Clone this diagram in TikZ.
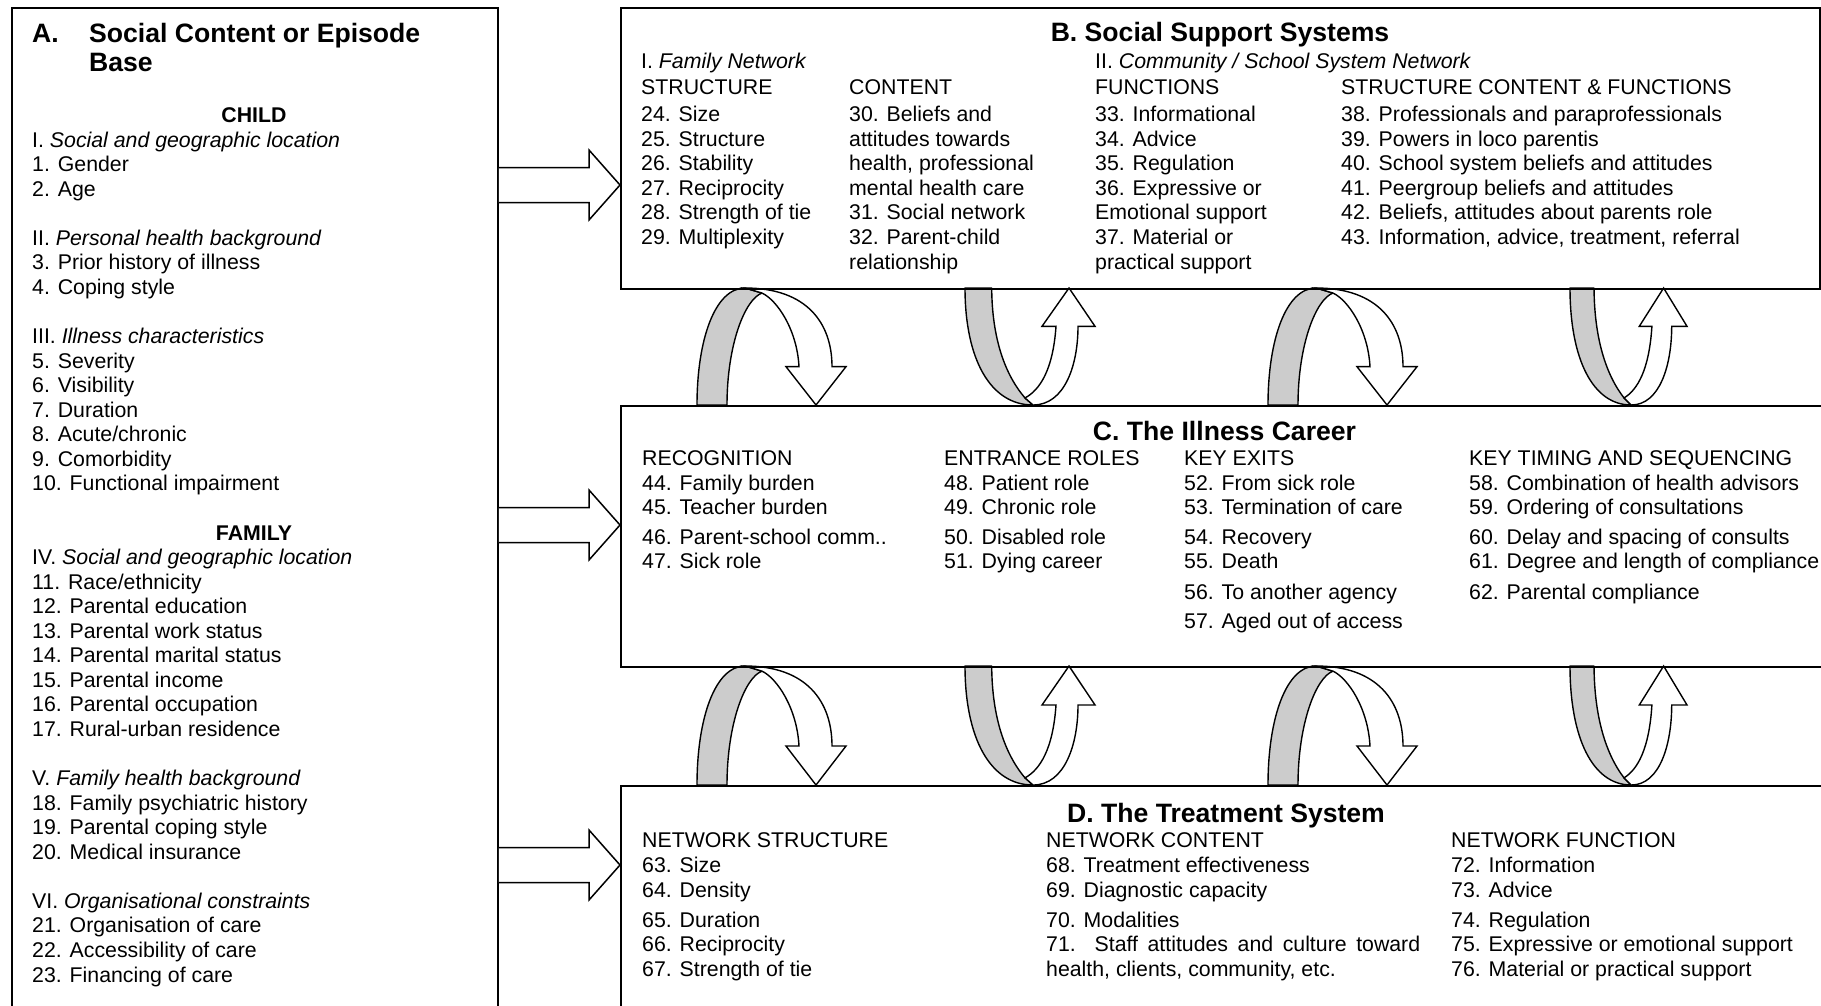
\documentclass[tikz,border=0pt]{standalone}
\usepackage{fontspec}
\setmainfont{Liberation Sans}
\definecolor{ribbon}{RGB}{204,204,204}
\tikzset{
  txt/.style={anchor=base west, inner sep=0pt, font=\fontsize{21.3}{24.6}\selectfont},
  ctxt/.style={anchor=base, inner sep=0pt, font=\fontsize{21.3}{24.6}\selectfont\bfseries},
  ttl/.style={anchor=base, inner sep=0pt, font=\fontsize{26.6}{29}\selectfont\bfseries},
  ttll/.style={anchor=base west, inner sep=0pt, font=\fontsize{26.6}{29}\selectfont\bfseries},
  boxline/.style={draw, line width=1.8pt},
  blockarrow/.style={draw, line width=1.5pt, fill=white, line join=miter},
  ribg/.style={draw, line width=1.4pt, fill=ribbon, line join=round},
  ribw/.style={draw, line width=1.4pt, fill=white, line join=miter},
}
\newcommand\txtline[4]{\node[txt] (#1) at (#2,#3) {#4};}
\newcommand\ribdown[4]{%
  \begin{scope}[shift={(#1,#2)}, xscale=#3, yscale=#4]
    \draw[ribg] (0,116) .. controls (0,51) and (18,0) .. (48,0) -- (65,5)
      .. controls (48,11) and (30,56) .. (30,116) -- cycle;
    \draw[ribw] (48,0) .. controls (110,0) and (135,35) .. (135,78) -- (149,78)
      -- (119,116) -- (89,78) -- (102,78) .. controls (100,41) and (80,12) .. (65,5) -- cycle;
  \end{scope}}
\newcommand\ribup[4]{%
  \begin{scope}[shift={(#1,#2)}, xscale=#3, yscale=#4]
    \draw[ribg] (0,0) .. controls (0,70) and (25,116) .. (68,116) -- (60,109)
      .. controls (40,86) and (27,50) .. (26.7,0) -- cycle;
    \draw[ribw] (68,116) .. controls (100,116) and (113,76) .. (113,38) -- (130,38)
      -- (104,0) -- (77,38) -- (91,38) .. controls (88,81) and (75,101) .. (60,109) -- cycle;
  \end{scope}}
\begin{document}
\begin{tikzpicture}[x=1pt, y=-1pt]
\useasboundingbox (0,0) rectangle (1821,1005);
\fill[white] (0,0) rectangle (1821,1005);

% curved ribbon arrows between B and C
\ribdown{697}{288}{1}{1.0086}
\ribup{965}{288}{1}{1.0086}
\ribdown{1268}{288}{1}{1.0086}
\ribup{1570}{288}{0.9}{1.0086}
% between C and D
\ribdown{697}{666}{1}{1.026}
\ribup{965}{666}{1}{1.026}
\ribdown{1268}{666}{1}{1.026}
\ribup{1570}{666}{0.9}{1.026}

% boxes
\node[boxline, anchor=north west, minimum width=486pt, minimum height=1010pt, inner sep=0pt] (boxA) at (11,6.7) {};
\node[boxline, anchor=north west, minimum width=1199pt, minimum height=281.3pt, inner sep=0pt] (boxB) at (620,6.7) {};
\node[boxline, anchor=north west, minimum width=1220pt, minimum height=261pt, inner sep=0pt] (boxC) at (620,405) {};
\node[boxline, anchor=north west, minimum width=1220pt, minimum height=240pt, inner sep=0pt] (boxD) at (620,785) {};

% block arrows A -> B, C, D
\foreach \cy/\nm in {185/ab, 525/ac, 865/ad}{
  \draw[blockarrow] (boxA.east |- {0,\cy-17.5}) -- (589,\cy-17.5) -- (589,\cy-35)
    -- (boxB.west |- {0,\cy}) -- (589,\cy+35) -- (589,\cy+17.5) -- (boxA.east |- {0,\cy+17.5});
}

% ---------- Box A ----------
\node[ttll] (atA) at (32,42.7) {A.};
\node[ttll] (at1) at (89,42.7) {Social Content or Episode};
\node[ttll] (at2) at (89,71.7) {Base};
\node[ctxt] (child) at (254,122.5) {CHILD};
\node[ctxt] (family) at (254,540.0) {FAMILY};
\newcommand\la[2]{\node[txt] (a#1) at (32,{122.5+24.56*#1}) {#2};}
\la{1}{I. \textit{Social and geographic location}}
\la{2}{1. Gender}
\la{3}{2. Age}
\la{5}{II. \textit{Personal health background}}
\la{6}{3. Prior history of illness}
\la{7}{4. Coping style}
\la{9}{III. \textit{Illness characteristics}}
\la{10}{5. Severity}
\la{11}{6. Visibility}
\la{12}{7. Duration}
\la{13}{8. Acute/chronic}
\la{14}{9. Comorbidity}
\la{15}{10. Functional impairment}
\la{18}{IV. \textit{Social and geographic location}}
\la{19}{11. Race/ethnicity}
\la{20}{12. Parental education}
\la{21}{13. Parental work status}
\la{22}{14. Parental marital status}
\la{23}{15. Parental income}
\la{24}{16. Parental occupation}
\la{25}{17. Rural-urban residence}
\la{27}{V. \textit{Family health background}}
\la{28}{18. Family psychiatric history}
\la{29}{19. Parental coping style}
\la{30}{20. Medical insurance}
\la{32}{VI. \textit{Organisational constraints}}
\la{33}{21. Organisation of care}
\la{34}{22. Accessibility of care}
\la{35}{23. Financing of care}

% ---------- Box B ----------
\node[ttl] (bt) at (1220,41.7) {B. Social Support Systems};
\txtline{b11}{641}{68.2}{I. \textit{Family Network}}
\txtline{b12}{641}{94.8}{STRUCTURE}
\txtline{b13}{641}{121.5}{24. Size}
\txtline{b14}{641}{146.1}{25. Structure}
\txtline{b15}{641}{170.7}{26. Stability}
\txtline{b16}{641}{195.3}{27. Reciprocity}
\txtline{b17}{641}{219.9}{28. Strength of tie}
\txtline{b18}{641}{244.5}{29. Multiplexity}
\txtline{b21}{849}{94.8}{CONTENT}
\txtline{b22}{849}{121.5}{30. Beliefs and}
\txtline{b23}{849}{146.1}{attitudes towards}
\txtline{b24}{849}{170.7}{health, professional}
\txtline{b25}{849}{195.3}{mental health care}
\txtline{b26}{849}{219.9}{31. Social network}
\txtline{b27}{849}{244.5}{32. Parent-child}
\txtline{b28}{849}{269.1}{relationship}
\txtline{b31}{1095}{68.2}{II. \textit{Community / School System Network}}
\txtline{b32}{1095}{94.8}{FUNCTIONS}
\txtline{b33}{1095}{121.5}{33. Informational}
\txtline{b34}{1095}{146.1}{34. Advice}
\txtline{b35}{1095}{170.7}{35. Regulation}
\txtline{b36}{1095}{195.3}{36. Expressive or}
\txtline{b37}{1095}{219.9}{Emotional support}
\txtline{b38}{1095}{244.5}{37. Material or}
\txtline{b39}{1095}{269.1}{practical support}
\txtline{b41}{1341}{94.8}{STRUCTURE CONTENT \& FUNCTIONS}
\txtline{b42}{1341}{121.5}{38. Professionals and paraprofessionals}
\txtline{b43}{1341}{146.1}{39. Powers in loco parentis}
\txtline{b44}{1341}{170.7}{40. School system beliefs and attitudes}
\txtline{b45}{1341}{195.3}{41. Peergroup beliefs and attitudes}
\txtline{b46}{1341}{219.9}{42. Beliefs, attitudes about parents role}
\txtline{b47}{1341}{244.5}{43. Information, advice, treatment, referral}

% ---------- Box C ----------
\node[ttl] (ct) at (1224.5,440.6) {C. The Illness Career};
\txtline{c11}{642}{465}{RECOGNITION}
\txtline{c12}{642}{490.3}{44. Family burden}
\txtline{c13}{642}{514.5}{45. Teacher burden}
\txtline{c14}{642}{544.6}{46. Parent-school comm..}
\txtline{c15}{642}{568.9}{47. Sick role}
\txtline{c21}{944}{465}{ENTRANCE ROLES}
\txtline{c22}{944}{490.3}{48. Patient role}
\txtline{c23}{944}{514.5}{49. Chronic role}
\txtline{c24}{944}{544.6}{50. Disabled role}
\txtline{c25}{944}{568.9}{51. Dying career}
\txtline{c31}{1184}{465}{KEY EXITS}
\txtline{c32}{1184}{490.3}{52. From sick role}
\txtline{c33}{1184}{514.5}{53. Termination of care}
\txtline{c34}{1184}{544.6}{54. Recovery}
\txtline{c35}{1184}{568.9}{55. Death}
\txtline{c36}{1184}{599}{56. To another agency}
\txtline{c37}{1184}{628.5}{57. Aged out of access}
\txtline{c41}{1469}{465}{KEY TIMING AND SEQUENCING}
\txtline{c42}{1469}{490.3}{58. Combination of health advisors}
\txtline{c43}{1469}{514.5}{59. Ordering of consultations}
\txtline{c44}{1469}{544.6}{60. Delay and spacing of consults}
\txtline{c45}{1469}{568.9}{61. Degree and length of compliance}
\txtline{c46}{1469}{599}{62. Parental compliance}

% ---------- Box D ----------
\node[ttl] (dt) at (1226,822.5) {D. The Treatment System};
\txtline{d11}{642}{847}{NETWORK STRUCTURE}
\txtline{d12}{642}{872.7}{63. Size}
\txtline{d13}{642}{897}{64. Density}
\txtline{d14}{642}{927.3}{65. Duration}
\txtline{d15}{642}{951.7}{66. Reciprocity}
\txtline{d16}{642}{976}{67. Strength of tie}
\txtline{d21}{1046}{847}{NETWORK CONTENT}
\txtline{d22}{1046}{872.7}{68. Treatment effectiveness}
\txtline{d23}{1046}{897}{69. Diagnostic capacity}
\txtline{d24}{1046}{927.3}{70. Modalities}
\txtline{d25}{1046}{951.7}{\makebox[374pt][s]{71. Staff attitudes and culture toward}}
\txtline{d26}{1046}{976}{health, clients, community, etc.}
\txtline{d31}{1451}{847}{NETWORK FUNCTION}
\txtline{d32}{1451}{872.7}{72. Information}
\txtline{d33}{1451}{897}{73. Advice}
\txtline{d34}{1451}{927.3}{74. Regulation}
\txtline{d35}{1451}{951.7}{75. Expressive or emotional support}
\txtline{d36}{1451}{976}{76. Material or practical support}
\end{tikzpicture}
\end{document}
